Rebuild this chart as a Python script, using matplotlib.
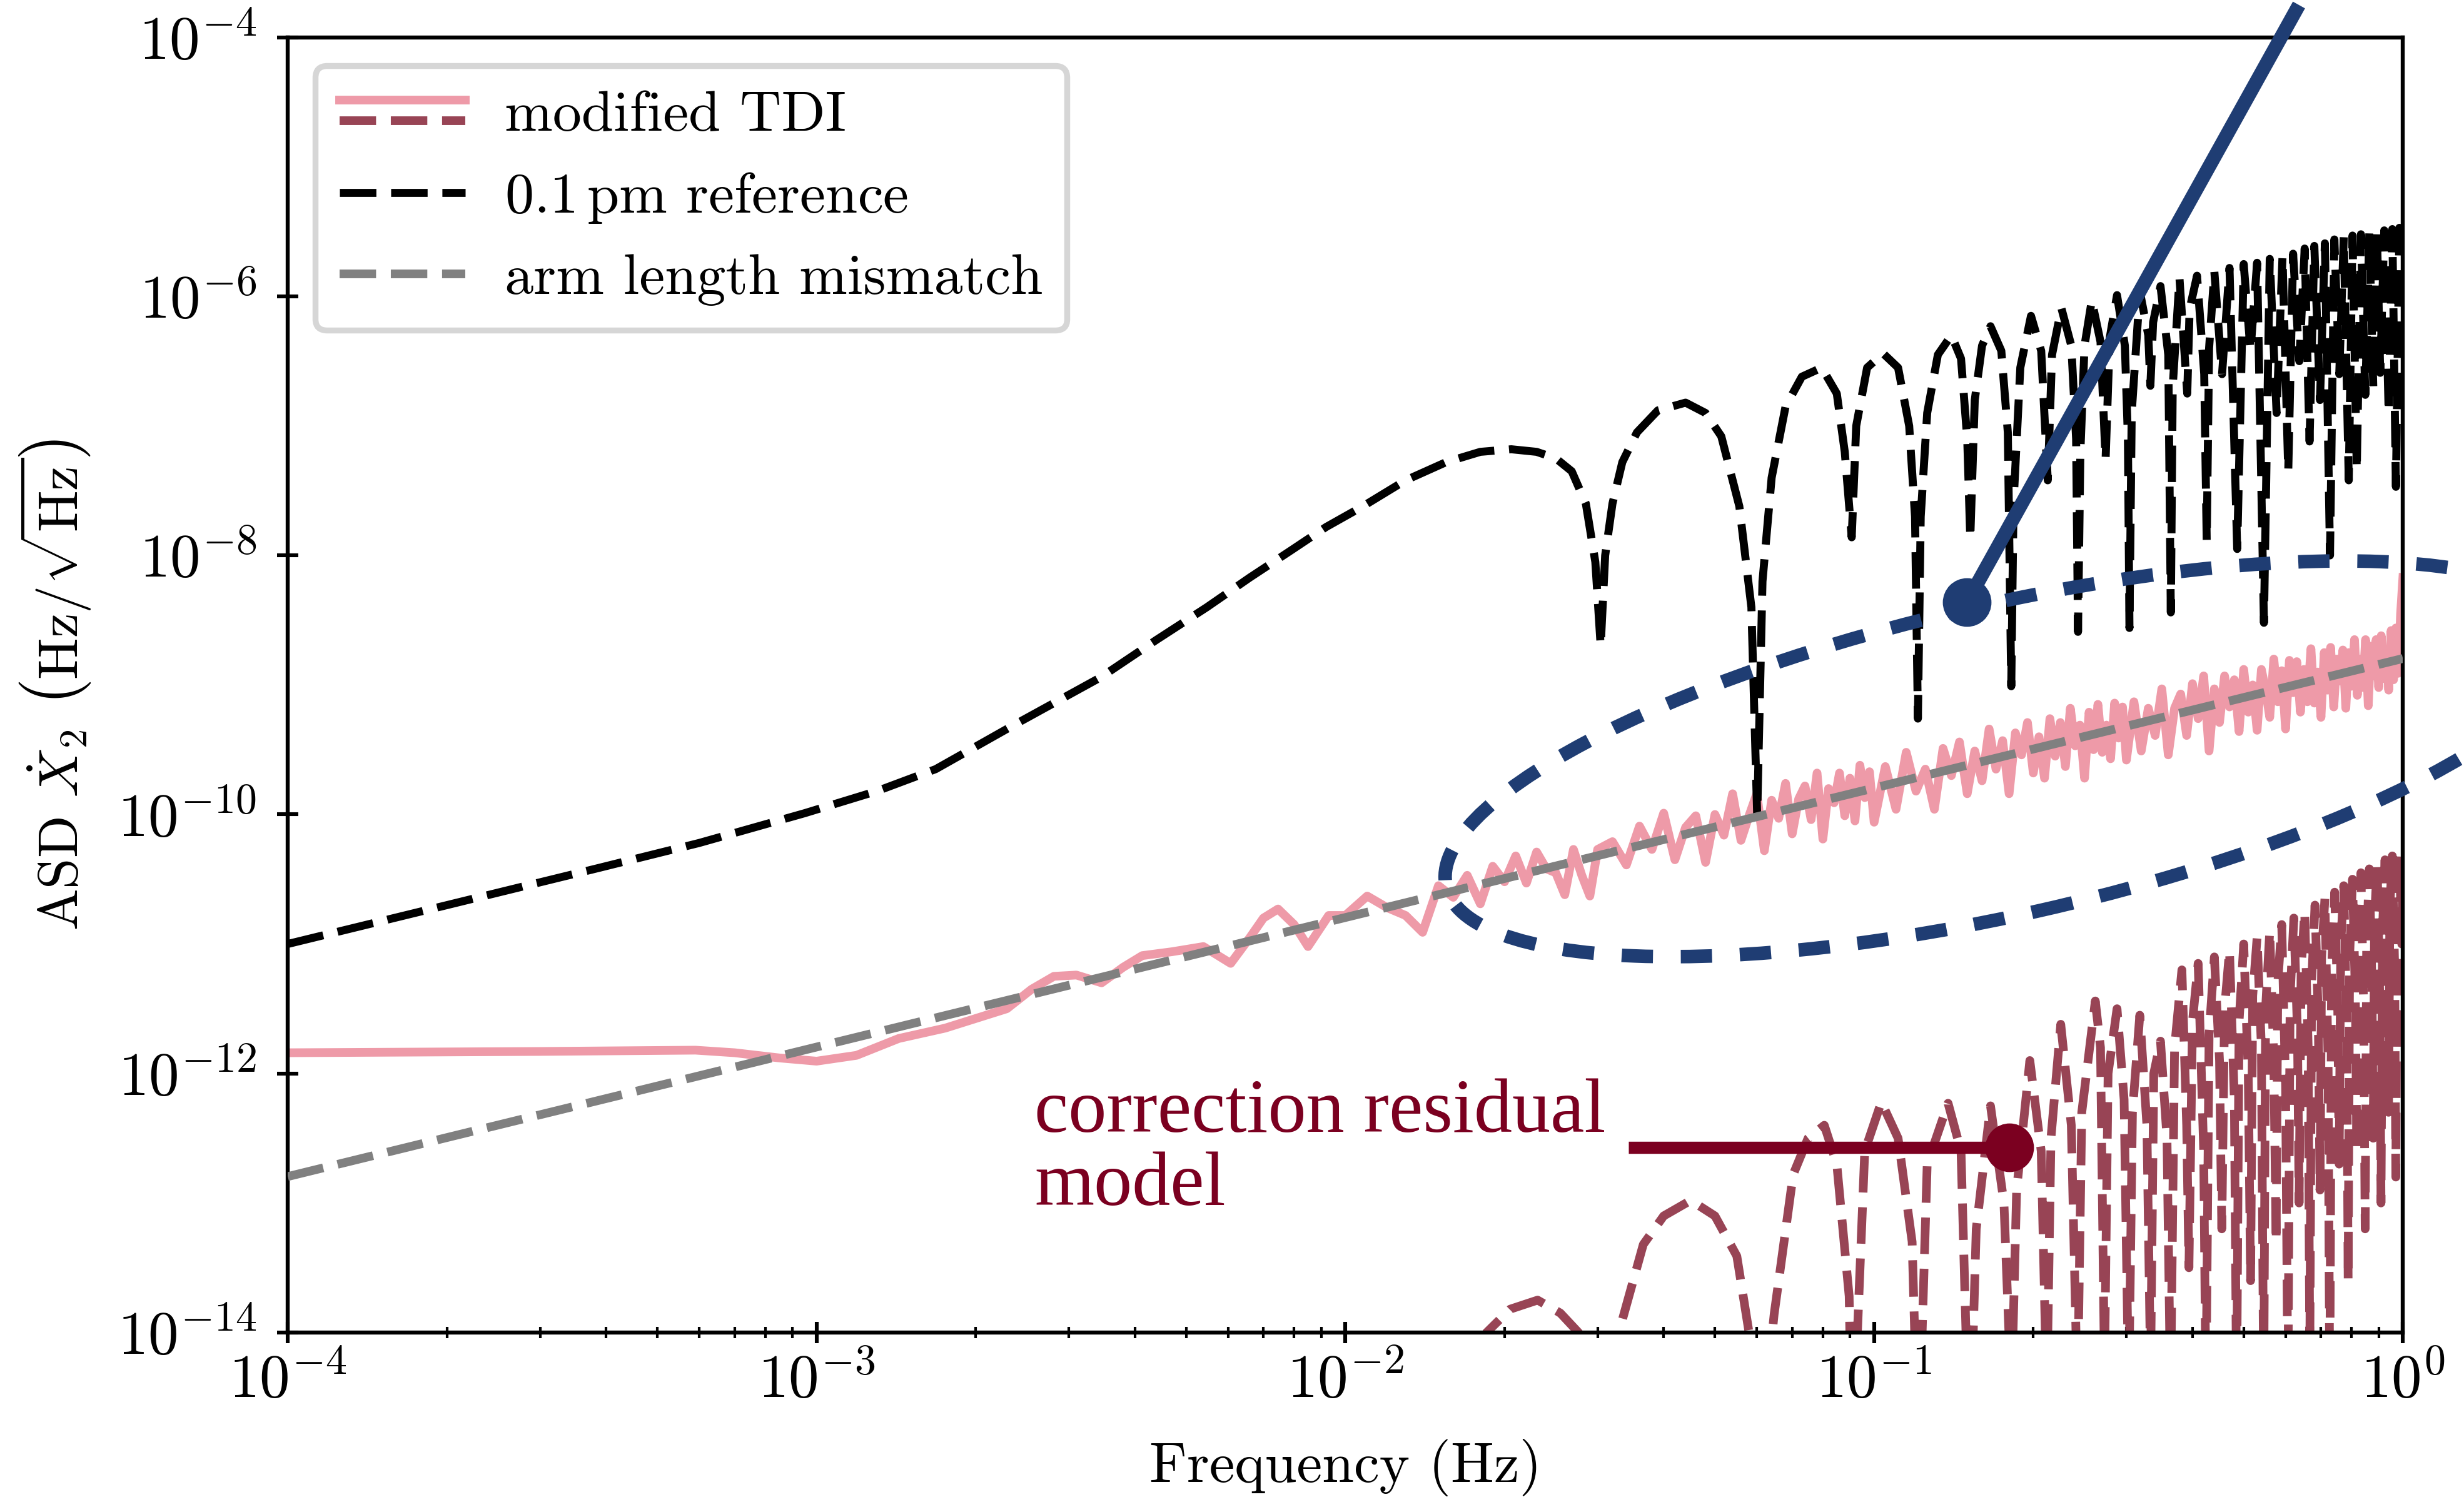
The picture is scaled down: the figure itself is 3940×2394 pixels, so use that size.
import numpy as np
import matplotlib
matplotlib.use('Agg')
import matplotlib.pyplot as plt
from matplotlib.lines import Line2D
from matplotlib.patches import Ellipse
from matplotlib.legend_handler import HandlerBase
import matplotlib.transforms as mtransforms
from matplotlib.ticker import FixedLocator, FuncFormatter, NullLocator, LogLocator, NullFormatter

plt.rcParams['font.family'] = 'serif'
plt.rcParams['font.serif'] = ['cmr10']
plt.rcParams['mathtext.fontset'] = 'cm'
plt.rcParams['axes.formatter.use_mathtext'] = True
plt.rcParams['lines.scale_dashes'] = False

# ---------------- data (log10 of ASD) ----------------
# 0.1 pm reference (black dashed)
ref_freq = [1e-4, 2e-4, 3.9e-4, 6e-4, 9.5e-4, 1.3e-3, 1.68e-3, 2.36e-3, 3.45e-3, 4.4e-3,
            5.47e-3, 6.6e-3, 7.9e-3, 9.2e-3, 1.08e-2, 1.3e-2, 1.55e-2, 1.8e-2, 2.06e-2, 2.3e-2,
            2.5e-2, 2.68e-2, 2.85e-2, 2.97e-2, 3.04e-2, 3.1e-2, 3.2e-2, 3.34e-2, 3.56e-2, 3.9e-2,
            4.4e-2, 4.8e-2, 5.14e-2, 5.56e-2, 5.86e-2, 6.01e-2, 6.15e-2, 6.4e-2, 6.8e-2, 7.3e-2,
            7.96e-2, 8.5e-2, 8.8e-2, 9.07e-2, 9.25e-2, 9.7e-2, 0.104, 0.111, 0.1165, 0.1195,
            0.121, 0.1225, 0.126, 0.132, 0.140, 0.146, 0.150, 0.152, 0.155, 0.160,
            0.166, 0.174, 0.179, 0.1817, 0.1835, 0.189, 0.198, 0.207, 0.213, 0.217,
            0.226, 0.236, 0.241, 0.243, 0.2455, 0.250, 0.258, 0.268, 0.274, 0.279,
            0.288, 0.298, 0.302, 0.304, 0.307, 0.318, 0.330, 0.333, 0.337, 0.348,
            0.360, 0.364, 0.367, 0.378, 0.391, 0.395, 0.408, 0.421, 0.4256, 0.430,
            0.440, 0.455, 0.470, 0.486, 0.500, 0.515, 0.530, 0.546, 0.560, 0.577,
            0.592, 0.607, 0.620, 0.637, 0.652, 0.666, 0.680, 0.697, 0.712, 0.728,
            0.742, 0.758, 0.773, 0.790, 0.803, 0.818, 0.833, 0.849, 0.864, 0.879,
            0.893, 0.906, 0.922, 0.940, 0.955, 0.970, 0.985, 1.0]
ref_log = [-11.00, -10.70, -10.41, -10.22, -9.99, -9.82, -9.65, -9.31, -8.94, -8.65,
           -8.40, -8.17, -7.96, -7.78, -7.62, -7.42, -7.28, -7.20, -7.18, -7.20,
           -7.25, -7.35, -7.60, -8.05, -8.70, -8.00, -7.60, -7.28, -7.05, -6.88,
           -6.82, -6.90, -7.08, -7.62, -8.40, -10.01, -8.20, -7.40, -6.85, -6.62,
           -6.55, -6.75, -7.20, -7.86, -7.00, -6.55, -6.44, -6.55, -7.00, -7.70,
           -9.26, -7.70, -6.90, -6.45, -6.30, -6.48, -7.10, -7.87, -6.80, -6.38,
           -6.23, -6.42, -7.05, -9.01, -7.60, -6.55, -6.15, -6.42, -7.42, -6.45,
           -6.09, -6.38, -7.10, -8.59, -7.20, -6.38, -6.03, -6.35, -7.26, -6.32,
           -5.99, -6.38, -7.10, -8.56, -6.90, -5.96, -6.30, -6.69, -6.20, -5.92,
           -6.45, -8.44, -6.70, -5.86, -6.75, -6.10, -5.84, -6.60, -7.89, -6.40,
           -5.81, -6.60, -5.78, -7.95, -5.75, -6.42, -5.74, -8.52, -5.71, -6.90,
           -5.69, -7.35, -5.67, -6.50, -5.63, -7.12, -5.61, -6.80, -5.59, -8.00,
           -5.56, -6.60, -5.54, -7.42, -5.53, -7.34, -5.52, -6.76, -5.51, -6.70,
           -5.50, -6.59, -5.49, -6.90, -5.48, -7.47, -5.47, -5.60]

# arm length mismatch (grey dashed)
mis_freq = [1e-4, 1.0]
mis_asd = [1.6e-13, 1.6e-9]

# modified TDI (pink solid)
tdi_freq = [1e-4, 3e-4, 5.9e-4, 7e-4, 8.5e-4, 1.0e-3, 1.19e-3, 1.43e-3, 1.75e-3, 2.29e-3,
            2.55e-3, 2.81e-3, 3.1e-3, 3.46e-3, 3.8e-3, 4.13e-3, 4.7e-3, 5.39e-3, 6.07e-3, 6.6e-3,
            7.0e-3, 7.46e-3, 8.0e-3, 8.5e-3, 9.3e-3,
            0.010, 0.011, 0.012, 0.013, 0.014, 0.015, 0.016, 0.017, 0.018, 0.019,
            0.020, 0.021, 0.022, 0.023, 0.024, 0.025, 0.026, 0.027, 0.028, 0.029, 0.030,
            0.032, 0.034, 0.036, 0.038, 0.040, 0.042, 0.044, 0.046, 0.048, 0.050,
            0.052, 0.054, 0.056, 0.058, 0.060, 0.062, 0.064, 0.066, 0.068, 0.070,
            0.072, 0.074, 0.076, 0.078, 0.080, 0.082, 0.084, 0.086, 0.088, 0.090,
            0.092, 0.094, 0.096, 0.098, 0.100,
            0.105, 0.110, 0.115, 0.120, 0.125, 0.130, 0.135, 0.140, 0.145, 0.150,
            0.155, 0.160, 0.165, 0.170, 0.175, 0.180, 0.185, 0.190, 0.195, 0.200,
            0.205, 0.210, 0.215, 0.220, 0.225, 0.230, 0.235, 0.240, 0.245, 0.250,
            0.255, 0.260, 0.265, 0.270, 0.275, 0.280, 0.285, 0.290, 0.295, 0.300,
            0.31, 0.32, 0.33, 0.34, 0.35, 0.36, 0.37, 0.38, 0.39, 0.40,
            0.41, 0.42, 0.43, 0.44, 0.45, 0.46, 0.47, 0.48, 0.49, 0.50,
            0.51, 0.52, 0.53, 0.54, 0.55, 0.56, 0.57, 0.58, 0.59, 0.60,
            0.61, 0.62, 0.63, 0.64, 0.65, 0.66, 0.67, 0.68, 0.69, 0.70,
            0.71, 0.72, 0.73, 0.74, 0.75, 0.76, 0.77, 0.78, 0.79, 0.80,
            0.81, 0.82, 0.83, 0.84, 0.85, 0.86, 0.87, 0.88, 0.89, 0.90,
            0.91, 0.92, 0.93, 0.94, 0.95, 0.96, 0.97, 0.98, 0.99, 1.00]
tdi_log = [-11.84, -11.83, -11.82, -11.84, -11.88, -11.905, -11.86, -11.73, -11.65, -11.50,
           -11.35, -11.25, -11.24, -11.30, -11.18, -11.09, -11.06, -11.02, -11.15, -10.95,
           -10.80, -10.73, -10.85, -11.02, -10.78,
           -10.78, -10.63, -10.72, -10.78, -10.91, -10.55, -10.64, -10.47, -10.69, -10.40,
           -10.52, -10.32, -10.53, -10.29, -10.42, -10.45, -10.62, -10.27, -10.47, -10.63, -10.27,
           -10.21, -10.39, -10.09, -10.27, -9.99, -10.35, -10.10, -10.01, -10.37, -10.00,
           -10.16, -9.84, -10.20, -10.01, -9.84, -10.28, -9.89, -10.03, -9.76, -10.15,
           -9.88, -9.78, -10.04, -9.68, -10.19, -9.80, -9.91, -9.68, -10.01, -9.72,
           -10.05, -9.62, -9.87, -9.67, -10.06,
           -9.63, -9.96, -9.52, -9.82, -9.65, -9.96, -9.49, -9.70, -9.44, -9.84,
           -9.51, -9.74, -9.34, -9.65, -9.43, -9.84, -9.37, -9.54, -9.29, -9.68,
           -9.40, -9.72, -9.26, -9.55, -9.29, -9.63, -9.18, -9.47, -9.31, -9.72,
           -9.21, -9.50, -9.15, -9.52, -9.31, -9.57, -9.14, -9.41, -9.17, -9.58,
           -9.13, -9.51, -9.18, -9.39, -9.03, -9.54, -9.18, -9.07, -9.39, -8.99,
           -9.26, -8.93, -9.51, -9.03, -9.29, -8.93, -9.17, -8.96, -9.36, -8.88,
           -9.21, -9.00, -9.35, -8.88, -9.04, -9.25, -8.80, -9.13, -8.89, -9.34,
           -8.81, -9.06, -8.82, -9.21, -8.88, -9.13, -8.72, -9.14, -8.90, -9.25,
           -8.75, -9.04, -8.71, -9.17, -8.80, -8.97, -8.73, -9.18, -8.75, -9.01,
           -8.65, -9.08, -8.80, -9.02, -8.65, -9.16, -8.70, -8.93, -8.65, -9.02,
           -8.62, -8.95, -8.73, -9.04, -8.58, -8.96, -8.56, -8.91, -8.45, -8.17]

# correction residual model (dark red dashed)
res_freq = [0.0165, 0.0185, 0.0205, 0.0231, 0.0255, 0.0276, 0.0303, 0.0329, 0.0366, 0.040,
            0.045, 0.050, 0.055, 0.058, 0.0606, 0.0647, 0.0703, 0.075, 0.0805, 0.085,
            0.0897, 0.0909, 0.096, 0.1032, 0.111, 0.118, 0.1212, 0.126, 0.138, 0.146,
            0.1515, 0.156, 0.166, 0.176, 0.1818, 0.186, 0.197, 0.207, 0.2121, 0.216,
            0.2254, 0.236, 0.2424, 0.247, 0.262, 0.268, 0.2727, 0.277, 0.288, 0.297,
            0.303, 0.308, 0.318, 0.328, 0.3333, 0.338, 0.348, 0.358, 0.3636, 0.370,
            0.382, 0.390, 0.3939, 0.400, 0.410, 0.420, 0.4242, 0.430, 0.440, 0.450,
            0.4545, 0.460, 0.470, 0.480, 0.4848, 0.490, 0.500, 0.510, 0.5152, 0.520,
            0.530, 0.540, 0.5455, 0.550, 0.560, 0.570, 0.5758, 0.580, 0.590, 0.600,
            0.6061, 0.612, 0.622, 0.632, 0.6364, 0.642, 0.652, 0.662, 0.6667, 0.672,
            0.682, 0.692, 0.697, 0.702, 0.712, 0.722, 0.7273, 0.733, 0.743, 0.753,
            0.7576, 0.763, 0.773, 0.783, 0.7879, 0.793, 0.803, 0.813, 0.8182, 0.823,
            0.833, 0.843, 0.8485, 0.854, 0.864, 0.874, 0.8788, 0.884, 0.894, 0.904,
            0.9091, 0.915, 0.925, 0.935, 0.9394, 0.945, 0.955, 0.965, 0.9697, 0.975,
            0.985, 0.995, 1.0]
res_log = [-14.5, -14.0, -13.82, -13.75, -13.85, -14.0, -15.0, -14.0, -13.32, -13.10,
           -12.98, -13.10, -13.41, -14.0, -15.0, -13.86, -12.78, -12.50, -12.40, -12.70,
           -13.72, -15.0, -12.60, -12.22, -12.50, -13.30, -15.0, -12.70, -12.23, -12.60,
           -15.0, -13.20, -12.25, -13.00, -14.5, -12.90, -11.90, -12.60, -14.5, -12.50,
           -11.62, -12.40, -14.5, -12.30, -11.44, -11.80, -14.3, -12.00, -11.50, -12.20,
           -14.5, -12.30, -11.55, -12.40, -14.3, -12.00, -11.75, -12.50, -14.5, -11.80,
           -11.20, -12.40, -13.5, -11.60, -11.15, -12.60, -14.5, -11.70, -11.10, -11.90,
           -13.2, -11.50, -11.05, -12.20, -14.5, -11.60, -11.00, -12.00, -13.6, -11.40,
           -10.95, -11.80, -14.5, -11.50, -10.90, -11.90, -13.3, -11.30, -10.85, -12.10,
           -14.5, -11.40, -10.80, -11.70, -13.0, -11.20, -10.75, -11.80, -14.2, -11.30,
           -10.70, -11.60, -12.9, -11.10, -10.65, -11.90, -14.5, -11.20, -10.60, -11.50,
           -12.7, -11.00, -10.55, -11.60, -13.6, -11.10, -10.50, -11.40, -12.6, -10.90,
           -10.45, -11.50, -13.2, -11.00, -10.42, -11.30, -12.5, -10.80, -10.38, -11.40,
           -13.0, -10.90, -10.35, -11.20, -12.3, -10.70, -10.32, -11.20, -12.8, -10.80,
           -10.30, -11.00, -10.35]

# annotation anchors (data coordinates)
blue_dot = (0.1498, 4.36e-9)
blue_end = (0.636, 1.78e-4)
red_dot = (0.180, 2.69e-13)
red_start = 0.0343
ellipse_center = (0.179, 2.69e-10)

# ---------------- colours ----------------
PINK = '#ee9aa8'
DARKRED = '#984455'
NAVY = '#1f3d73'
MAROON = '#7b0020'
GREY = '#808080'
DASH = (0, (21, 8.5))

fig = plt.figure(figsize=(19.7, 11.97), dpi=200)
ax = fig.add_axes([0.1168, 0.1099, 0.8584, 0.8651])

pink_line, = ax.plot(tdi_freq, 10 ** np.array(tdi_log), color=PINK, lw=5.0, zorder=2,
                     solid_joinstyle='round')
red_line, = ax.plot(res_freq, 10 ** np.array(res_log), color=DARKRED, lw=5.0, ls=DASH, zorder=2)
black_line, = ax.plot(ref_freq, 10 ** np.array(ref_log), color='black', lw=4.6, ls=DASH, zorder=3)
grey_line, = ax.plot(mis_freq, mis_asd, color=GREY, lw=5.0, ls=DASH, zorder=4)

ax.set_xscale('log')
ax.set_yscale('log')
ax.set_xlim(1e-4, 1)
ax.set_ylim(1e-14, 1e-4)

fmt = FuncFormatter(lambda v, p: r'$10^{%d}$' % int(round(np.log10(v))))
ax.xaxis.set_major_locator(FixedLocator([1e-4, 1e-3, 1e-2, 1e-1, 1]))
ax.xaxis.set_minor_locator(LogLocator(base=10, subs=np.arange(2, 10)))
ax.xaxis.set_major_formatter(fmt)
ax.xaxis.set_minor_formatter(NullFormatter())
ax.yaxis.set_major_locator(FixedLocator([1e-14, 1e-12, 1e-10, 1e-8, 1e-6, 1e-4]))
ax.yaxis.set_minor_locator(NullLocator())
ax.yaxis.set_major_formatter(fmt)

ax.tick_params(which='major', direction='inout', length=12, width=2.2, labelsize=35)
ax.tick_params(which='minor', direction='inout', length=6.8, width=1.5)
ax.tick_params(axis='x', which='major', pad=6)
ax.tick_params(axis='y', which='major', pad=12)
for s in ax.spines.values():
    s.set_linewidth(2.3)

ax.set_xlabel('Frequency (Hz)', fontsize=33, labelpad=17)
ax.set_ylabel(r'ASD $\dot{X}_2$ $\left(\mathrm{Hz}/\sqrt{\mathrm{Hz}}\right)$', fontsize=32, labelpad=14)


class StackedHandler(HandlerBase):
    def __init__(self, offset, **kw):
        super().__init__(**kw)
        self.offset = offset

    def create_artists(self, legend, orig_handle, xdescent, ydescent, width, height,
                       fontsize, trans):
        arts = []
        y0 = height / 2 - ydescent
        for h, dy in zip(orig_handle, (self.offset, -self.offset)):
            ln = Line2D([-xdescent, -xdescent + width], [y0 + dy, y0 + dy])
            ln.update_from(h)
            ln.set_transform(trans)
            arts.append(ln)
        return arts


leg = ax.legend([(pink_line, red_line), black_line, grey_line],
                ['modified TDI', r'0.1$\,$pm reference', 'arm length mismatch'],
                handler_map={tuple: StackedHandler(5.8)},
                loc='upper left', bbox_to_anchor=(0.013, 0.978), borderaxespad=0,
                fontsize=33.2, handlelength=2.18, handletextpad=0.68,
                labelspacing=0.5, borderpad=0.42, framealpha=1, fancybox=True)
leg.get_frame().set_edgecolor('#d6d6d6')
leg.get_frame().set_linewidth(3.4)
leg.set_zorder(5)

# ---------------- annotations ----------------
ell_trans = fig.dpi_scale_trans + mtransforms.ScaledTranslation(
    ellipse_center[0], ellipse_center[1], ax.transData)
ell = Ellipse((0, 0), 9.21, 2.48, angle=12.8, fill=False, edgecolor=NAVY, lw=7.8,
              ls=(0, (18, 16)), transform=ell_trans, clip_on=False, zorder=7)
ax.add_artist(ell)

ax.plot([blue_dot[0], blue_end[0]], [blue_dot[1], blue_end[1]], color=NAVY, lw=8,
        solid_capstyle='butt', clip_on=False, zorder=8)
ax.plot([blue_dot[0]], [blue_dot[1]], 'o', ms=27, color=NAVY, clip_on=False, zorder=8)

ax.plot([red_start, red_dot[0]], [red_dot[1], red_dot[1]], color=MAROON, lw=7,
        solid_capstyle='butt', clip_on=False, zorder=8)
ax.plot([red_dot[0]], [red_dot[1]], 'o', ms=27, color=MAROON, clip_on=False, zorder=8)

fig.text(1654 / 3940, 1 - 1810 / 2394, 'correction residual', color=MAROON,
         family='Liberation Serif', fontsize=44, va='baseline', ha='left')
fig.text(1654 / 3940, 1 - 1927 / 2394, 'model', color=MAROON,
         family='Liberation Serif', fontsize=44, va='baseline', ha='left')

fig.savefig('out.png', dpi=200)
